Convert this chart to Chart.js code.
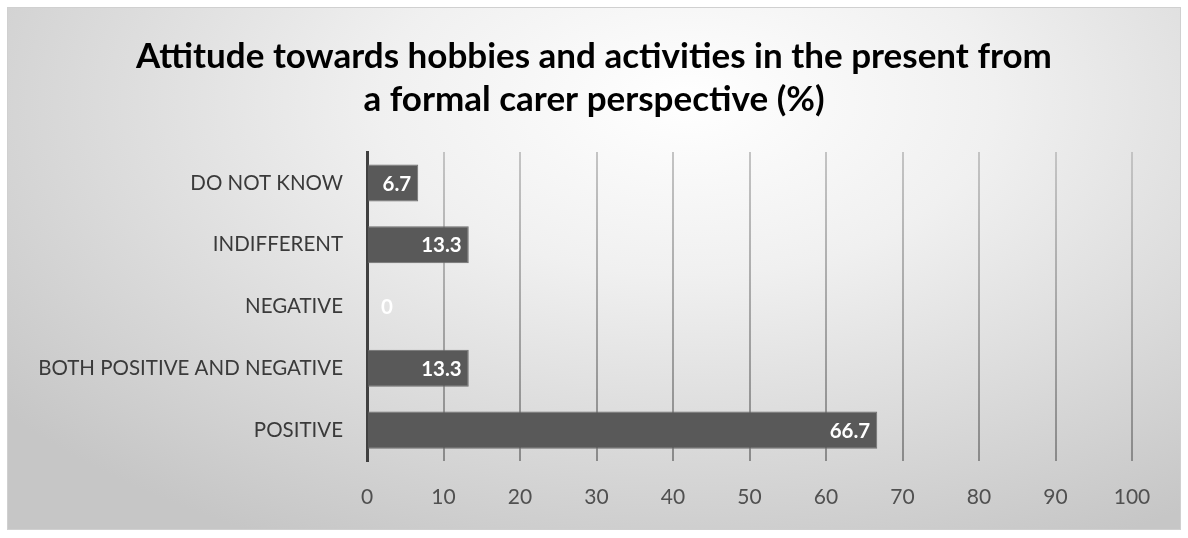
<!DOCTYPE html>
<html>
<head>
<meta charset="utf-8">
<script src="https://cdn.jsdelivr.net/npm/chart.js@4"></script>
<style>
  html, body { margin: 0; padding: 0; background: #ffffff; }
  #wrap {
    position: absolute; left: 7px; top: 7px; width: 1174px; height: 523px;
    border: 1px solid #d0d0d0; box-sizing: border-box;
    background: radial-gradient(ellipse 75% 95% at 58% 18%, #ffffff 0%, #f0f0f0 35%, #d6d6d6 75%, #c6c6c6 100%);
  }
  #c { position: absolute; left: 0; top: 0; }
</style>
</head>
<body>
<div id="wrap"></div>
<canvas id="c" width="1188" height="538"></canvas>
<script>
// categories from top to bottom as they appear in the bar chart
const categories = ["DO NOT KNOW", "INDIFFERENT", "NEGATIVE", "BOTH POSITIVE AND NEGATIVE", "POSITIVE"];
const percentages = [6.7, 13.3, 0, 13.3, 66.7];
const xTicks = [0, 10, 20, 30, 40, 50, 60, 70, 80, 90, 100];
const titleLines = ["Attitude towards hobbies and activities in the present from", "a formal carer perspective (%)"];

const FONT = "Lato, 'Open Sans', sans-serif";

// white labels drawn inside the end of each bar
const barLabels = {
  id: "barLabels",
  afterDatasetsDraw(chart) {
    const ctx = chart.ctx;
    const meta = chart.getDatasetMeta(0);
    ctx.save();
    ctx.font = "bold 20.5px " + FONT;
    ctx.fillStyle = "#ffffff";
    ctx.textBaseline = "middle";
    ctx.textAlign = "right";
    meta.data.forEach((bar, i) => {
      const txt = String(percentages[i]);
      const w = ctx.measureText(txt).width;
      const x = Math.max(bar.x - 7, bar.base + 14 + w);
      ctx.fillText(txt, x, bar.y + 1);
    });
    ctx.restore();
  }
};

function gridGradient(context) {
  const chart = context.chart;
  const area = chart.chartArea;
  if (!area) return "#a6a6a6";
  const g = chart.ctx.createLinearGradient(0, area.top, 0, area.bottom);
  g.addColorStop(0, "#c4c4c4");
  g.addColorStop(1, "#8a8a8a");
  return g;
}

new Chart(document.getElementById("c"), {
  type: "bar",
  data: {
    labels: categories,
    datasets: [{
      data: percentages,
      backgroundColor: "#595959",
      borderColor: "#6e6e6e",
      borderWidth: 1,
      borderSkipped: "left",
      barPercentage: 0.6,
      categoryPercentage: 1.0
    }]
  },
  options: {
    indexAxis: "y",
    responsive: false,
    animation: false,
    layout: { padding: 0 },
    plugins: {
      legend: { display: false },
      tooltip: { enabled: false },
      title: {
        display: true,
        text: titleLines,
        color: "#000000",
        font: { family: FONT, size: 35, weight: "bold", lineHeight: 1.23 },
        padding: { top: 35, bottom: 31 }
      }
    },
    scales: {
      x: {
        min: 0,
        max: 100,
        afterBuildTicks(scale) { scale.ticks = xTicks.map(v => ({ value: v })); },
        afterFit(scale) { scale.height = 77; },
        grid: { color: gridGradient, lineWidth: 2, drawTicks: false },
        border: { display: false },
        ticks: { color: "#505050", padding: 24, font: { family: FONT, size: 21 } }
      },
      y: {
        afterFit(scale) { scale.width = 367; },
        grid: { display: false, drawTicks: false },
        border: { display: true, color: "#404040", width: 3 },
        ticks: { color: "#3a3a3a", padding: 24, font: { family: FONT, size: 20.5 } }
      },
      // empty right-hand axis that only reserves the margin after 100
      yRight: {
        position: "right",
        afterFit(scale) { scale.width = 56; },
        grid: { display: false, drawTicks: false },
        border: { display: false },
        ticks: { display: false }
      }
    }
  },
  plugins: [barLabels]
});
</script>
</body>
</html>
